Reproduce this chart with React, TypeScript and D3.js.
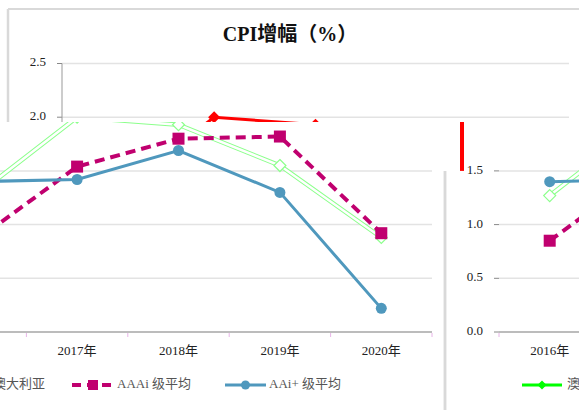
import React from "react";
import * as d3 from "d3";

// 数据
const years = ["2016年", "2017年", "2018年", "2019年", "2020年"];
const australia = [1.27, 2.0, 1.93, 1.55, 0.88];
const aaai = [0.85, 1.54, 1.8, 1.82, 0.92];
const aaiPlus = [1.4, 1.42, 1.69, 1.3, 0.22];
const yTicks = [0, 0.5, 1.0, 1.5, 2.0, 2.5];
const legendLabels = ["澳大利亚", "AAAi 级平均", "AAi+ 级平均"];

const W = 579;
const H = 410;
const SPLIT = 122; // 画面在这里错开
const SHIFT_LEFT = -137;
const SHIFT_RIGHT = 437;
const FONT = "'Liberation Serif', 'Times New Roman', 'Noto Sans CJK SC', serif";

const PINK = "#c0006f";
const BLUE = "#4f98bd";
const GREEN = "#00ff00";
const PALE_GREEN = "#8cff8c";
const RED = "#ff0000";
const GRID = "#e3e3e3";
const FRAME = "#d9d9d9";

const x = d3.scaleBand<string>().domain(years).range([62, 569]);
const y = d3.scaleLinear().domain([0, 2.5]).range([332, 63.5]);
const cx = (i: number) => (x(years[i]) as number) + x.bandwidth() / 2;

const line = d3
  .line<number>()
  .x((_, i) => cx(i))
  .y((d) => y(d));

const diamond = (px: number, py: number, r: number) =>
  `M${px},${py - r}L${px + r},${py}L${px},${py + r}L${px - r},${py}Z`;

const legendX = [85, 209, 362];
const legendW = [52, 78, 78];
const legendY = 385;

function Chart({ dx, top }: { dx: number; top: boolean }) {
  const [x0, x1] = x.range();
  const frameTop = top ? 9 : y(1.5);
  // 只画在画面里能看到的文字
  const seen = (a: number, b: number) => a + dx < W && b + dx > 0;
  const inStrip = (py: number) => (top ? py < SPLIT : py > SPLIT);
  return (
    <g transform={`translate(${dx},0)`} style={{ fontFamily: FONT }}>
      {top && <line x1={8} x2={582} y1={9} y2={9} stroke={FRAME} strokeWidth={2} />}
      <line x1={8} x2={8} y1={frameTop} y2={H + 20} stroke={FRAME} strokeWidth={2.5} />
      <line x1={582} x2={582} y1={frameTop} y2={H + 20} stroke={FRAME} strokeWidth={2.5} />
      {top && (
        <text x={290} y={36} textAnchor="middle" dominantBaseline="middle" fontSize={20} fontWeight="bold" fill="#111">
          CPI增幅（%）
        </text>
      )}

      {/* 网格和 y 轴 */}
      {yTicks.map((t) => (
        <g key={t}>
          {t > 0 && <line x1={x0} x2={x1} y1={y(t)} y2={y(t)} stroke={GRID} strokeWidth={1.5} />}
          <line x1={x0 - 5} x2={x0} y1={y(t)} y2={y(t)} stroke="#888" />
          {inStrip(y(t)) && seen(x0 - 36, x0 - 16) && (
            <text x={x0 - 16} y={y(t)} textAnchor="end" dominantBaseline="middle" fontSize={13} fill="#222">
              {t.toFixed(1)}
            </text>
          )}
        </g>
      ))}
      {top && <line x1={x0} x2={x0} y1={y(2.5)} y2={y(0)} stroke="#999" />}
      <line x1={x0} x2={x1} y1={y(0)} y2={y(0)} stroke="#a6a6a6" strokeWidth={1.5} />
      {[...years.map((yr) => x(yr) as number), x1].map((p, i) => (
        <line key={i} x1={p} x2={p} y1={y(0) + 1} y2={y(0) + 5} stroke="#e8b4e8" />
      ))}
      {!top &&
        years.map((yr, i) =>
          seen(cx(i) - 20, cx(i) + 20) ? (
            <text key={yr} x={cx(i)} y={352} textAnchor="middle" dominantBaseline="middle" fontSize={13} fill="#222">
              {yr}
            </text>
          ) : null
        )}

      {/* 澳大利亚 */}
      {top ? (
        <g>
          <path d={line(australia) || ""} fill="none" stroke={RED} strokeWidth={3} />
          {australia.map((v, i) => (
            <path key={i} d={diamond(cx(i), y(v), 6)} fill={RED} />
          ))}
        </g>
      ) : (
        <g>
          <path d={line(australia) || ""} fill="none" stroke={PALE_GREEN} strokeWidth={4.5} />
          <path d={line(australia) || ""} fill="none" stroke="#fff" strokeWidth={2.5} />
          {australia.map((v, i) => (
            <path key={i} d={diamond(cx(i), y(v), 6)} fill="#fff" stroke={PALE_GREEN} strokeWidth={1.2} />
          ))}
        </g>
      )}

      {/* AAAi 级平均 */}
      <path d={line(aaai) || ""} fill="none" stroke={PINK} strokeWidth={4} strokeDasharray="10,6" />
      {aaai.map((v, i) => (
        <rect key={i} x={cx(i) - 6} y={y(v) - 6} width={12} height={12} fill={PINK} />
      ))}

      {/* AAi+ 级平均 */}
      <path d={line(aaiPlus) || ""} fill="none" stroke={BLUE} strokeWidth={3} />
      {aaiPlus.map((v, i) => (
        <circle key={i} cx={cx(i)} cy={y(v)} r={5.5} fill={BLUE} />
      ))}

      {/* 图例 */}
      {!top && (
        <g fontSize={13} fill="#555">
          <line x1={legendX[0]} x2={legendX[0] + 40} y1={legendY} y2={legendY} stroke={GREEN} strokeWidth={3} />
          <path d={diamond(legendX[0] + 20, legendY, 4.5)} fill={GREEN} />
          {seen(legendX[0] + 45, legendX[0] + 45 + legendW[0]) && (
            <text x={legendX[0] + 45} y={legendY} dominantBaseline="middle">{legendLabels[0]}</text>
          )}

          <line x1={legendX[1]} x2={legendX[1] + 42} y1={legendY} y2={legendY} stroke={PINK} strokeWidth={4} strokeDasharray="9,6" />
          <rect x={legendX[1] + 16} y={legendY - 5} width={10} height={10} fill={PINK} />
          {seen(legendX[1] + 45, legendX[1] + 45 + legendW[1]) && (
            <text x={legendX[1] + 45} y={legendY} dominantBaseline="middle">{legendLabels[1]}</text>
          )}

          <line x1={legendX[2]} x2={legendX[2] + 41} y1={legendY} y2={legendY} stroke={BLUE} strokeWidth={3} />
          <circle cx={legendX[2] + 20.5} cy={legendY} r={4.5} fill={BLUE} />
          {seen(legendX[2] + 44, legendX[2] + 44 + legendW[2]) && (
            <text x={legendX[2] + 44} y={legendY} dominantBaseline="middle">{legendLabels[2]}</text>
          )}
        </g>
      )}

      {/* 错位留下的红色残影 */}
      {!top && <rect x={x0 - 39} y={SPLIT} width={4} height={y(1.5) - SPLIT} fill={RED} />}
    </g>
  );
}

export default function App() {
  return (
    <svg
      width={W}
      height={H}
      style={{ position: "absolute", left: 0, top: 0, background: "#fff" }}
    >
      <defs>
        <clipPath id="clipTop">
          <rect x={0} y={0} width={W} height={SPLIT} />
        </clipPath>
        <clipPath id="clipBottom">
          <rect x={0} y={SPLIT} width={W} height={H - SPLIT} />
        </clipPath>
      </defs>
      <rect width={W} height={H} fill="#fff" />
      <g clipPath="url(#clipTop)">
        <Chart dx={0} top={true} />
      </g>
      <g clipPath="url(#clipBottom)">
        <Chart dx={SHIFT_LEFT} top={false} />
        <Chart dx={SHIFT_RIGHT} top={false} />
      </g>
    </svg>
  );
}
